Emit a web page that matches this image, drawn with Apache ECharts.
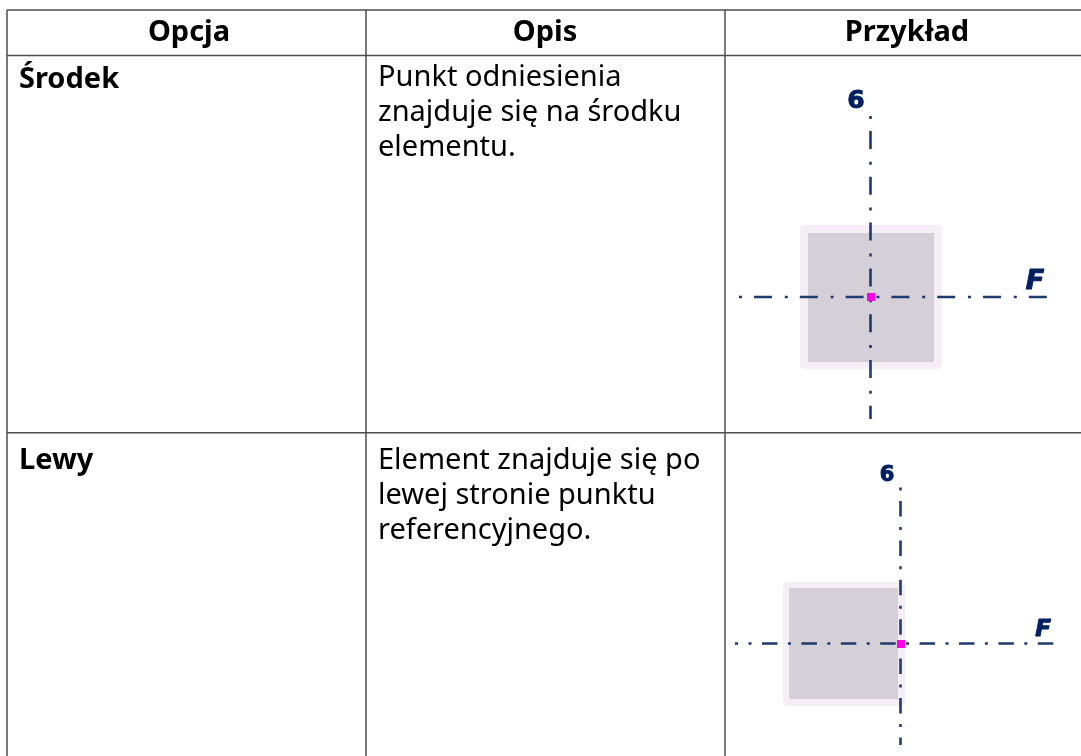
<!DOCTYPE html>
<html>
<head>
<meta charset="utf-8">
<title>Opcja</title>
<style>
html, body { margin: 0; padding: 0; background: #fff; }
#chart1 { width: 1081px; height: 756px; }
</style>
<script src="https://cdn.jsdelivr.net/npm/echarts@6/dist/echarts.min.js"></script>
</head>
<body>
<div id="chart1"></div>
<script>
// table text
var headers = ['Opcja', 'Opis', 'Przykład'];
var options = ['Środek', 'Lewy'];
var descriptions = [
    ['Punkt odniesienia', 'znajduje się na środku', 'elementu.'],
    ['Element znajduje się po', 'lewej stronie punktu', 'referencyjnego.']
];
var axisNames = ['6', 'F'];

// table rules, in picture units: [x0, y0, x1, y1]
var rules = [
    [7, 10, 1081, 10],
    [7, 55.5, 1081, 55.5],
    [7, 432.7, 1081, 432.7],
    [7, 10, 7, 756],
    [366, 10, 366, 756],
    [725, 10, 725, 756]
];

// element sections: [left, top, right, bottom]
var outerBoxes = [[800, 225, 942, 369], [783, 582, 905, 706]];
var innerBoxes = [[808, 233, 934, 362], [789, 588, 898, 699]];

// reference points and axis extents
var refPoints = [[871, 297], [901, 644]];
var gridV = [[870.5, 116, 870.5, 419], [900.5, 487.5, 900.5, 745]];
var gridH = [[739, 297, 1049, 297], [735, 643.5, 1054.5, 643.5]];

var myChart1 = echarts.init(document.getElementById('chart1'));

function segment(params, api) {
    var a = api.coord([api.value(0), api.value(1)]);
    var b = api.coord([api.value(2), api.value(3)]);
    return {
        type: 'line',
        shape: { x1: a[0], y1: a[1], x2: b[0], y2: b[1] },
        style: { stroke: '#4d4d4d', lineWidth: 1.5 }
    };
}

function box(fill, cut) {
    return function (params, api) {
        var a = api.coord([api.value(0), api.value(1)]);
        var b = api.coord([api.value(2), api.value(3)]);
        return {
            type: 'polygon',
            shape: {
                points: [
                    [a[0] + cut, a[1]], [b[0] - cut, a[1]], [b[0], a[1] + cut], [b[0], b[1] - cut],
                    [b[0] - cut, b[1]], [a[0] + cut, b[1]], [a[0], b[1] - cut], [a[0], a[1] + cut]
                ]
            },
            style: { fill: fill }
        };
    };
}

function gridLine(name, row, pattern, offset) {
    return {
        name: name,
        type: 'line',
        data: [[row[0], row[1]], [row[2], row[3]]],
        showSymbol: false,
        silent: true,
        z: 4,
        lineStyle: {
            color: '#1f3a6e',
            width: 2.6,
            type: pattern,
            dashOffset: offset
        }
    };
}

// plain text marks, placed through the same axes
function textSeries(name, rows, style) {
    return {
        name: name,
        type: 'scatter',
        data: rows.map(function (r) {
            return { value: [r[0], r[1]], label: { formatter: r[2] } };
        }),
        symbolSize: 0,
        silent: true,
        z: 6,
        itemStyle: { opacity: 1 },
        label: Object.assign({
            show: true,
            position: 'inside',
            fontFamily: 'Noto Sans',
            fontSize: 29,
            color: '#000',
            opacity: 1,
            align: 'left',
            verticalAlign: 'middle'
        }, style)
    };
}

function nameStyle(size, italic) {
    return {
        fontFamily: 'DejaVu Sans',
        fontWeight: 'bold',
        fontStyle: italic ? 'italic' : 'normal',
        fontSize: size,
        color: '#002060',
        textBorderColor: '#002060',
        textBorderWidth: 1,
        align: 'center'
    };
}

var headerRows = [[189, 33, headers[0]], [545, 33, headers[1]], [907, 33, headers[2]]];
var optionRows = [[19, 80, options[0]], [19, 461, options[1]]];
var descRows = [];
descriptions.forEach(function (lines, i) {
    lines.forEach(function (t, j) {
        descRows.push([378, (i === 0 ? 78 : 461) + j * 35, t]);
    });
});

option1 = {
    animation: false,
    backgroundColor: '#fff',
    grid: { left: 0, right: 0, top: 0, bottom: 0 },
    xAxis: { type: 'value', min: 0, max: 1081, show: false },
    yAxis: { type: 'value', min: 0, max: 756, inverse: true, show: false },
    series: [
        { name: 'outer', type: 'custom', data: outerBoxes, renderItem: box('#f6eef7', 3), silent: true, z: 2, clip: false },
        { name: 'inner', type: 'custom', data: innerBoxes, renderItem: box('#d5cfd8', 0), silent: true, z: 3, clip: false },
        { name: 'rules', type: 'custom', data: rules, renderItem: segment, silent: true, z: 5 },
        gridLine('v1', gridV[0], [3, 12, 18, 12.8], 0),
        gridLine('h1', gridH[0], [3, 12, 18, 12.8], 0),
        gridLine('v2', gridV[1], [3, 10.5, 15.5, 10.4], 0),
        gridLine('h2', gridH[1], [3, 10.5, 15.5, 10.4], 25.9),
        {
            name: 'points',
            type: 'scatter',
            data: refPoints,
            symbol: 'rect',
            symbolSize: 8,
            silent: true,
            z: 7,
            itemStyle: { color: '#ff00e6', opacity: 1 }
        },
        textSeries('headers', headerRows, { fontWeight: 'bold', align: 'center' }),
        textSeries('options', optionRows, { fontWeight: 'bold' }),
        textSeries('descriptions', descRows, {}),
        textSeries('names1', [[856, 101, axisNames[0]]], nameStyle(25, false)),
        textSeries('names1b', [[1035, 282, axisNames[1]]], nameStyle(27, true)),
        textSeries('names2', [[887, 476, axisNames[0]]], nameStyle(21, false)),
        textSeries('names2b', [[1043, 630, axisNames[1]]], nameStyle(23, true))
    ]
};
myChart1.setOption(option1);
</script>
</body>
</html>
